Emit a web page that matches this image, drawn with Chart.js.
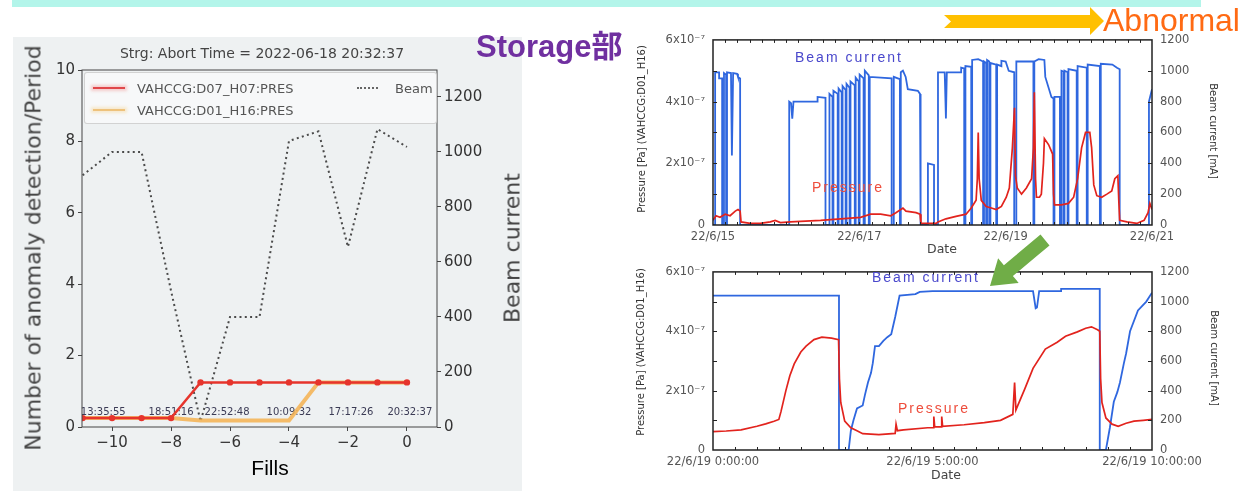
<!DOCTYPE html>
<html><head><meta charset="utf-8">
<script src="https://cdn.jsdelivr.net/npm/chart.js@4.4.0/dist/chart.umd.min.js"></script>
<style>
html,body{margin:0;padding:0;background:#fff;width:1250px;height:492px;overflow:hidden;position:relative;font-family:'Liberation Sans',Arial,sans-serif}
.abs{position:absolute;white-space:nowrap;line-height:1}
.rot{transform:translate(-50%,-50%) rotate(-90deg)}
.rotR{transform:translate(-50%,-50%) rotate(90deg)}
.ctr{transform:translate(-50%,-50%)}
canvas{position:absolute}
</style></head><body>
<div class="abs" style="left:12px;top:0;width:1189px;height:7px;background:#b3f5ea"></div>
<div class="abs" style="left:13px;top:37px;width:509px;height:454px;background:#eef1f2"></div>
<canvas id="cL" width="509" height="454" style="left:13px;top:37px"></canvas>
<canvas id="cT" width="620" height="233" style="left:630px;top:25px"></canvas>
<canvas id="cB" width="620" height="233" style="left:630px;top:257px"></canvas>

<!-- left chart texts -->
<div class="abs ctr" style="left:262px;top:53px;font:14px 'DejaVu Sans';color:#444">Strg: Abort Time = 2022-06-18 20:32:37</div>
<div class="abs rot" style="left:33px;top:248px;font:22px 'DejaVu Sans';color:#444">Number of anomaly detection/Period</div>
<div class="abs rot" style="left:512px;top:248px;font:22px 'DejaVu Sans';color:#444">Beam current</div>
<div class="abs ctr" style="left:270px;top:468px;font:21px 'Liberation Sans';color:#000">Fills</div>
<div class="abs" style="left:84px;top:72px;width:351px;height:50px;background:rgba(255,255,255,0.5);border:1px solid rgba(205,205,205,0.9);border-radius:3px"></div>
<div class="abs" style="left:93px;top:87px;width:32px;height:2px;background:#e0474a;box-shadow:0 0 3px 2px rgba(240,120,120,0.35)"></div>
<div class="abs" style="left:93px;top:109px;width:32px;height:2px;background:#eec27c;box-shadow:0 0 3px 2px rgba(245,200,120,0.35)"></div>
<div class="abs" style="left:137px;top:81px;font:13px 'DejaVu Sans';color:#555">VAHCCG:D07_H07:PRES</div>
<div class="abs" style="left:137px;top:103px;font:13px 'DejaVu Sans';color:#555">VAHCCG:D01_H16:PRES</div>
<div class="abs" style="left:357px;top:87px;width:21px;height:0;border-top:2px dotted #666"></div>
<div class="abs" style="left:395px;top:81px;font:13px 'DejaVu Sans';color:#555">Beam</div>

<div class="abs" style="left:476px;top:21px;font:bold 31px 'Liberation Sans','Noto Sans CJK JP';color:#7030a0">Storage部</div>

<!-- right charts texts -->
<div class="abs rot" style="left:641px;top:129px;font:10px 'DejaVu Sans';color:#333">Pressure [Pa] (VAHCCG:D01_H16)</div>
<div class="abs rotR" style="left:1213px;top:131px;font:10px 'DejaVu Sans';color:#333">Beam current [mA]</div>
<div class="abs ctr" style="left:942px;top:248px;font:12.5px 'DejaVu Sans';color:#444">Date</div>
<div class="abs ctr" style="left:849px;top:57px;font:14px 'Liberation Sans';letter-spacing:2px;color:#4a48cc">Beam current</div>
<div class="abs ctr" style="left:848px;top:187px;font:14px 'Liberation Sans';letter-spacing:2px;color:#ee4d3c">Pressure</div>

<div class="abs rot" style="left:640px;top:352px;font:10px 'DejaVu Sans';color:#333">Pressure [Pa] (VAHCCG:D01_H16)</div>
<div class="abs rotR" style="left:1214px;top:358px;font:10px 'DejaVu Sans';color:#333">Beam current [mA]</div>
<div class="abs ctr" style="left:946px;top:474px;font:12.5px 'DejaVu Sans';color:#444">Date</div>
<div class="abs ctr" style="left:926px;top:277px;font:14px 'Liberation Sans';letter-spacing:2px;color:#4a48cc">Beam current</div>
<div class="abs ctr" style="left:934px;top:408px;font:14px 'Liberation Sans';letter-spacing:2px;color:#ee4d3c">Pressure</div>

<!-- arrows -->
<svg class="abs" style="left:0;top:0" width="1250" height="492">
  <polygon points="944,15 1090,15 1090,7 1104,21 1090,35 1090,28 944,28 951,21.5" fill="#ffc000"/>
  <polygon points="1049.5,245.4 1012.9,276 1018.7,282.9 990,286 998.1,258.3 1003.9,265.2 1040.5,234.6" fill="#70ad47"/>
</svg>
<div class="abs" style="left:1103px;top:2px;font:32px 'Liberation Sans';color:#ff6a13">Abnormal</div>

<script>
// ===== Left chart data =====
const fills = [-11,-10,-9,-8,-7,-6,-5,-4,-3,-2,-1,0];
const anomD07H07 = [0.25,0.25,0.25,0.25,1.25,1.25,1.25,1.25,1.25,1.25,1.25,1.25];
const anomD01H16 = [0.25,0.25,0.25,0.25,0.18,0.18,0.18,0.18,1.25,1.25,1.25,1.25];
const beamPerFill = [915,1000,1000,495,20,400,400,1040,1075,655,1083,1018];
const fillTicks = [-10,-8,-6,-4,-2,0];
const anomTicks = [0,2,4,6,8,10];
const beamTicksL = [0,200,400,600,800,1000,1200];
const fillTimeLabels = ['13:35:55','18:51:16','22:52:48','10:09:32','17:17:26','20:32:37'];
const fillTimeLabelX = [-10.3,-8.0,-6.1,-4.0,-1.9,0.1];
const fillTimeLabelY = 0.4;

// ===== Top right chart data (hours from 22/6/15 0:00) =====
const dateTickHours = [0,48,96,144];
const dateTickLabels = ['22/6/15','22/6/17','22/6/19','22/6/21'];
const pressureTickVals = [0,2,4,6];
const pressureTickLabels = ['0','2x10\u207B\u2077','4x10\u207B\u2077','6x10\u207B\u2077'];
const beamTickVals = [0,200,400,600,800,1000,1200];
const beamTop = [
 [0,0],[0.7,0],[0.7,990],[2.0,990],[2.0,950],[3.0,950],[3.0,0],[3.6,0],[3.6,985],[4.3,975],[4.3,0],[4.6,0],[4.6,990],[5.9,985],[6.2,450],[6.6,985],[7.9,980],[8.2,960],[8.9,950],[8.9,0],
 [25.0,0],[25.0,800],[25.6,790],[26.0,690],[26.4,800],[34.3,800],[34.3,830],[36.9,825],[36.9,0],
 [38.2,0],[38.2,850],[39.2,830],[39.2,0],[39.5,0],[39.5,870],[40.9,850],[40.9,0],[41.2,0],[41.2,885],[42.2,860],[42.2,0],
 [42.5,0],[42.5,900],[43.5,875],[43.5,0],[43.8,0],[43.8,915],[44.8,890],[44.8,0],[45.1,0],[45.1,930],[46.5,905],[46.5,0],
 [46.8,0],[46.8,955],[47.8,930],[47.8,0],[48.1,0],[48.1,975],[49.4,950],[49.4,0],[49.8,0],[49.8,1000],[51.1,970],[51.1,0],
 [51.4,0],[51.4,960],[58.6,950],[58.6,0],[59.3,0],[59.3,960],[61.3,945],[61.3,0],[61.6,0],[61.6,990],[62.3,1000],[63.2,960],[63.9,880],[67.2,870],[67.9,850],[67.9,530],[68.2,500],[68.2,0],
 [70.5,0],[70.5,400],[72.5,390],[72.5,0],
 [73.8,0],[73.8,990],[76.0,990],[76.4,690],[76.7,990],[81.4,990],[81.4,1020],[82.4,1015],[82.4,0],[82.8,0],[82.8,1030],[84.7,1025],[84.7,0],
 [85.0,0],[85.0,1070],[87.0,1075],[88.6,1060],[88.6,0],[88.9,0],[88.9,1060],[89.6,1050],[89.6,0],[89.9,0],[89.9,1070],[90.6,1060],[90.6,0],
 [91.0,0],[91.0,1050],[92.9,1040],[92.9,0],[93.2,0],[93.2,1040],[94.6,1030],[94.6,1065],[96.0,1060],[97.0,1000],[98.8,990],[98.8,0],
 [99.5,0],[99.5,1060],[105.1,1060],[105.1,0],[105.4,0],[105.4,1060],[106.8,1075],[108.7,1070],[109.0,960],[111.0,830],[111.7,820],[111.7,0],
 [112.0,0],[112.0,830],[113.8,830],[113.8,0],[114.3,0],[114.3,1000],[115.0,995],[115.0,0],[115.3,0],[115.3,1000],[116.3,990],[116.3,0],
 [116.6,0],[116.6,1010],[119.3,1000],[119.3,0],[119.6,0],[119.6,1030],[122.6,1020],[122.6,0],[122.9,0],[122.9,1040],[126.9,1030],[126.9,0],
 [127.2,0],[127.2,1045],[131.0,1040],[132.5,1020],[133.4,1010],[133.4,0],[143.0,0],[143.0,800],[144,880]
];
const pressureTop = [
 [0,0.15],[1.0,0.3],[2.3,0.25],[4.0,0.35],[5.6,0.3],[7.3,0.45],[8.2,0.5],[8.9,0.45],[9.2,0.1],[12.2,0.05],[15.5,0.05],[18.8,0.1],[20.4,0.15],
 [22.1,0.08],[25.4,0.1],[28.7,0.12],[35.3,0.15],[41.9,0.2],[48.4,0.25],[51.7,0.35],[55.0,0.35],[58.3,0.3],[60.0,0.4],[62.3,0.55],[63.3,0.45],
 [66.6,0.4],[67.9,0.35],[68.2,0.05],[73.2,0.05],[73.8,0.1],[76.4,0.2],[79.7,0.28],[83.0,0.35],[84.7,0.55],[86.3,0.8],[86.7,1.5],[87.0,3.0],
 [87.3,1.5],[88.0,0.8],[89.6,0.6],[91.3,0.55],[92.9,0.5],[94.6,0.6],[96.2,0.9],[97.2,1.2],[98.2,2.5],[98.9,3.8],[99.2,1.6],[99.8,1.2],
 [101.2,1.0],[102.8,1.2],[104.5,1.5],[105.1,2.5],[105.4,4.3],[105.8,1.5],[106.1,0.9],[107.1,0.9],[107.7,1.0],[108.4,2.0],[108.7,2.8],
 [110.1,2.6],[111.4,2.3],[111.7,1.0],[112.0,0.65],[114.3,0.65],[116.6,0.7],[118.3,0.9],[119.6,1.5],[120.9,2.5],[122.2,3.0],[123.6,3.0],
 [124.2,2.5],[124.9,1.3],[125.9,0.95],[127.5,0.9],[129.2,1.0],[130.8,1.1],[131.8,1.5],[132.8,1.6],[133.1,0.8],[133.4,0.15],[135.8,0.1],
 [139.0,0.05],[141.4,0.15],[142.7,0.4],[143.3,0.7],[144,0.5]
];

// ===== Bottom right chart data (hours from 22/6/19 0:00) =====
const timeTickHours = [0,5,10];
const timeTickLabels = ['22/6/19 0:00:00','22/6/19 5:00:00','22/6/19 10:00:00'];
const beamBottom = [
 [0,1040],[2.87,1040],[2.87,0],[3.09,0],[3.14,130],[3.2,200],[3.28,280],[3.41,300],[3.46,370],[3.53,455],[3.6,520],[3.64,585],
 [3.69,700],[3.78,700],[3.88,735],[3.97,760],[4.06,780],[4.15,896],[4.25,1040],[4.61,1050],[4.71,1065],[5.0,1070],[7.29,1070],
 [7.35,955],[7.38,960],[7.43,1070],[7.93,1070],[7.93,1085],[8.81,1085],[8.81,0],[8.95,0],[9.04,150],[9.13,325],[9.21,390],
 [9.27,455],[9.36,585],[9.41,650],[9.5,800],[9.68,940],[9.87,1000],[10.0,1060]
];
const pressureBottom = [
 [0,0.62],[0.3,0.64],[0.64,0.68],[1.0,0.8],[1.2,0.88],[1.39,0.97],[1.5,1.03],[1.55,1.3],[1.66,2.0],[1.75,2.5],[1.85,2.9],[2.0,3.3],
 [2.12,3.5],[2.3,3.72],[2.48,3.8],[2.7,3.77],[2.86,3.72],[2.88,2.4],[2.91,1.6],[3.0,0.97],[3.14,0.75],[3.28,0.65],[3.41,0.55],
 [3.78,0.52],[4.15,0.56],[4.17,0.87],[4.2,0.65],[4.34,0.68],[4.89,0.75],[5.02,0.75],[5.03,1.13],[5.05,0.78],[5.2,0.78],[5.21,1.13],
 [5.23,0.8],[5.72,0.85],[6.18,0.92],[6.55,1.0],[6.83,1.2],[6.87,2.27],[6.9,1.35],[7.1,2.05],[7.29,2.75],[7.57,3.4],[7.84,3.63],
 [8.03,3.83],[8.3,3.98],[8.49,4.1],[8.62,4.15],[8.76,4.05],[8.81,4.0],[8.83,2.4],[8.86,1.6],[8.95,1.08],[9.09,0.87],[9.23,0.8],
 [9.41,0.9],[9.59,0.97],[9.8,1.0],[10.0,1.03]
];

// ===== plugins =====
const framePlugin = {
  id:'frame',
  afterDatasetsDraw(chart, args, o){
    const {ctx, chartArea:a} = chart;
    ctx.save();
    ctx.strokeStyle = o.color; ctx.lineWidth = o.width;
    ctx.strokeRect(a.left, a.top, a.right-a.left, a.bottom-a.top);
    ctx.lineWidth = 1;
    const sx = chart.scales.x;
    (o.xTicks||[]).forEach(v=>{
      const p = Math.round(sx.getPixelForValue(v))+0.5;
      ctx.beginPath(); ctx.moveTo(p,a.bottom); ctx.lineTo(p,a.bottom-o.len);
      ctx.moveTo(p,a.top); ctx.lineTo(p,a.top+o.len); ctx.stroke();
    });
    if (o.yTicks){
      const sy = chart.scales[o.yAxis];
      o.yTicks.forEach(v=>{
        const p = Math.round(sy.getPixelForValue(v))+0.5;
        ctx.beginPath(); ctx.moveTo(a.left,p); ctx.lineTo(a.left+o.len+1,p);
        ctx.moveTo(a.right,p); ctx.lineTo(a.right-o.len-1,p); ctx.stroke();
      });
    }
    ctx.restore();
  }
};
const fillLabelPlugin = {
  id:'fillLabels',
  beforeDatasetsDraw(chart){
    const {ctx} = chart; const sx = chart.scales.x, sy = chart.scales.y;
    ctx.save();
    ctx.font = '10px "DejaVu Sans"'; ctx.fillStyle = '#3b3b55';
    ctx.textAlign = 'center'; ctx.textBaseline = 'middle';
    fillTimeLabels.forEach((t,i)=>ctx.fillText(t, sx.getPixelForValue(fillTimeLabelX[i]), sy.getPixelForValue(fillTimeLabelY)));
    ctx.restore();
  }
};
const setTicks = vals => s => { s.ticks = vals.map(v=>({value:v})); };
const pts = arr => arr.map(p=>({x:p[0], y:p[1]}));
const plain = v => String(v);

// ===== Left chart =====
const tickFontL = {family:'DejaVu Sans', size:15};
new Chart(document.getElementById('cL'), {
  type:'line',
  data:{datasets:[
    {label:'VAHCCG:D07_H07:PRES', data:fills.map((f,i)=>({x:f,y:anomD07H07[i]})), yAxisID:'y',
     borderColor:'#e6342c', backgroundColor:'#e6342c', borderWidth:2.5, pointRadius:3.2, pointBorderWidth:0, order:1},
    {label:'VAHCCG:D01_H16:PRES', data:fills.map((f,i)=>({x:f,y:anomD01H16[i]})), yAxisID:'y',
     borderColor:'rgba(244,178,80,0.85)', borderWidth:4, pointRadius:0, order:2},
    {label:'Beam', data:fills.map((f,i)=>({x:f,y:beamPerFill[i]})), yAxisID:'yB',
     borderColor:'#4a4a4a', borderDash:[2,3.3], borderWidth:2, pointRadius:0, order:3}
  ]},
  options:{
    responsive:false, animation:false, events:[],
    layout:{padding:{top:33,left:0,right:0,bottom:0}},
    plugins:{legend:{display:false}, tooltip:{enabled:false}, frame:{color:'#444', width:1, len:0}},
    scales:{
      x:{type:'linear', min:-11.02, max:1.02, afterBuildTicks:setTicks(fillTicks), afterFit:s=>{s.height=64;},
         ticks:{font:tickFontL, color:'#333', padding:3, autoSkip:false, maxRotation:0,
                callback:v=>v<0?'\u2212'+Math.abs(v):String(v)},
         grid:{drawOnChartArea:false, tickLength:4, color:'#444'}, border:{display:false}},
      y:{position:'left', min:0, max:10, afterBuildTicks:setTicks(anomTicks), afterFit:s=>{s.width=69;},
         ticks:{font:tickFontL, color:'#333', padding:3, callback:plain},
         grid:{drawOnChartArea:false, tickLength:4, color:'#444'}, border:{display:false}},
      yB:{position:'right', min:0, max:1298, afterBuildTicks:setTicks(beamTicksL), afterFit:s=>{s.width=85;},
         ticks:{font:tickFontL, color:'#333', padding:3, callback:plain},
         grid:{drawOnChartArea:false, tickLength:4, color:'#444'}, border:{display:false}}
    }
  },
  plugins:[framePlugin, fillLabelPlugin]
});

// ===== Right charts =====
const tickFontR = {family:'DejaVu Sans', size:11.5};
function rightChart(id, beam, press, xMax, xTickVals, xTickLabels, xMinor, xAxisH){
  return new Chart(document.getElementById(id), {
    type:'line',
    data:{datasets:[
      {label:'Pressure', data:pts(press), yAxisID:'yP', borderColor:'#e2231d', borderWidth:1.7, pointRadius:0, order:1},
      {label:'Beam current', data:pts(beam), yAxisID:'yB', borderColor:'#2f67df', borderWidth:1.8, pointRadius:0, order:2}
    ]},
    options:{
      responsive:false, animation:false, events:[],
      layout:{padding:{top:8,left:0,right:0,bottom:0}},
      plugins:{legend:{display:false}, tooltip:{enabled:false},
        frame:{color:'#222', width:1.5, len:3, xTicks:xMinor, yTicks:[1,2,3,4,5], yAxis:'yP'}},
      scales:{
        x:{type:'linear', min:0, max:xMax, afterBuildTicks:setTicks(xTickVals), afterFit:s=>{s.height=xAxisH;},
           ticks:{font:tickFontR, color:'#555', padding:5, autoSkip:false, maxRotation:0,
                  callback:(v)=>xTickLabels[xTickVals.indexOf(v)]},
           grid:{drawOnChartArea:false, drawTicks:false}, border:{display:false}},
        yP:{position:'left', min:0, max:6, afterBuildTicks:setTicks(pressureTickVals), afterFit:s=>{s.width=83;},
           ticks:{font:tickFontR, color:'#555', padding:8, callback:v=>pressureTickLabels[pressureTickVals.indexOf(v)]},
           grid:{drawOnChartArea:false, drawTicks:false}, border:{display:false}},
        yB:{position:'right', min:0, max:1200, afterBuildTicks:setTicks(beamTickVals), afterFit:s=>{s.width=98;},
           ticks:{font:tickFontR, color:'#555', padding:8, callback:plain},
           grid:{drawOnChartArea:false, drawTicks:false}, border:{display:false}}
      }
    },
    plugins:[framePlugin]
  });
}
const minorTop = []; for (let h=4; h<144; h+=4) minorTop.push(h);
const minorBot = []; for (let h=0.5; h<10; h+=0.5) minorBot.push(h);
rightChart('cT', beamTop, pressureTop, 144, dateTickHours, dateTickLabels, minorTop, 33);
rightChart('cB', beamBottom, pressureBottom, 10, timeTickHours, timeTickLabels, minorBot, 40);
</script>
</body></html>
